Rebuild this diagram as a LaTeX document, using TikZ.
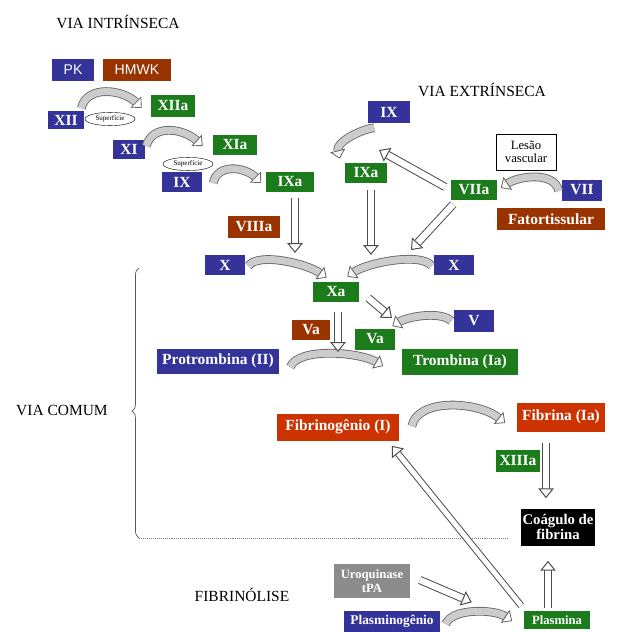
\documentclass[tikz,border=0pt]{standalone}
\usepackage{fontspec}
\setmainfont{Liberation Serif}
\newfontfamily\arialfont{Liberation Sans}
\usepackage{tikz}
\usetikzlibrary{arrows.meta}
\usetikzlibrary{calc,shapes.geometric,decorations.pathreplacing}

\definecolor{azul}{RGB}{51,51,153}
\definecolor{verde}{RGB}{28,124,28}
\definecolor{marrom}{RGB}{153,51,0}
\definecolor{vermelho}{RGB}{204,51,0}
\definecolor{cinza}{RGB}{140,140,140}

\begin{document}
\begin{tikzpicture}[x=0.025cm, y=-0.025cm]
    \tikzstyle{fator} = [rectangle, inner sep=0pt, text=white, font={\fontsize{11}{12}\selectfont\bfseries}];
    \tikzstyle{titulo} = [inner sep=0pt, font={\fontsize{11}{13}\selectfont}];
    \tikzstyle{superf} = [ellipse, draw, line width=0.3pt, inner sep=0pt, minimum width=1.25cm, minimum height=0.33cm, font={\fontsize{5}{6}\selectfont}];
    \tikzstyle{hollow} = [draw=black!70, line width=0.7pt, double=white, double distance=4.5pt, -{Triangle[open, fill=white, width=11pt, length=7pt]}];
    \tikzstyle{curva} = [draw=black!60, line width=0.6pt, double=gray!40, double distance=5pt, -{Triangle[open, fill=white, width=11pt, length=6pt]}];
    \useasboundingbox (0,0) rectangle (629,632);

    % via intrinseca
    \node[titulo] (vi) at (118,22) {VIA INTRÍNSECA};
    \node[fator, fill=azul, font={\arialfont\fontsize{10}{12}\selectfont}, minimum width=1.05cm, minimum height=0.525cm] (PK) at (73,70) {PK};
    \node[fator, fill=marrom, font={\arialfont\fontsize{10}{12}\selectfont}, minimum width=1.675cm, minimum height=0.525cm] (HMWK) at (137,70) {HMWK};
    \node[fator, fill=azul, minimum width=0.9cm, minimum height=0.43cm] (XII) at (66,120) {XII};
    \node[superf] (sup1) at (110,119) {Superfície};
    \node[fator, fill=verde, minimum width=1.1cm, minimum height=0.525cm] (XIIa) at (173,106) {XIIa};
    \node[fator, fill=azul, minimum width=0.8cm, minimum height=0.475cm] (XI) at (129,149) {XI};
    \node[fator, fill=verde, minimum width=1.1cm, minimum height=0.5cm] (XIa) at (235,145) {XIa};
    \node[superf] (sup2) at (188,164) {Superfície};
    \node[fator, fill=azul, minimum width=1.0cm, minimum height=0.5cm] (IX) at (182,182) {IX};
    \node[fator, fill=verde, minimum width=1.175cm, minimum height=0.5cm] (IXa) at (290,182) {IXa};
    \node[fator, fill=marrom, minimum width=1.275cm, minimum height=0.55cm] (VIIIa) at (254,227) {VIIIa};

    % via extrinseca
    \node[titulo] (ve) at (482,90) {VIA EXTRÍNSECA};
    \node[fator, fill=azul, minimum width=1.025cm, minimum height=0.525cm] (IXe) at (389,112) {IX};
    \node[fator, fill=verde, minimum width=1.05cm, minimum height=0.5cm] (IXae) at (366,173) {IXa};
    \node[draw, line width=0.4pt, align=center, minimum width=1.5cm, minimum height=0.9cm, inner sep=1pt, font={\fontsize{9}{9}\selectfont}] (lesao) at (526,152) {Lesão\\vascular};
    \node[fator, fill=verde, minimum width=1.125cm, minimum height=0.5cm] (VIIa) at (474,190) {VIIa};
    \node[fator, fill=azul, minimum width=1.0cm, minimum height=0.525cm] (VII) at (582,190) {VII};
    \node[fator, fill=marrom, minimum width=2.7cm, minimum height=0.55cm] (ft) at (551,219) {Fatortissular};

    % via comum
    \node[fator, fill=azul, minimum width=1.0cm, minimum height=0.5cm] (Xl) at (225,265) {X};
    \node[fator, fill=azul, minimum width=1.0cm, minimum height=0.5cm] (Xr) at (454,265) {X};
    \node[fator, fill=verde, minimum width=1.15cm, minimum height=0.5cm] (Xa) at (336,292) {Xa};
    \node[fator, fill=marrom, minimum width=0.95cm, minimum height=0.5cm] (Va) at (311,330) {Va};
    \node[fator, fill=verde, minimum width=1.0cm, minimum height=0.525cm] (Vag) at (375,339) {Va};
    \node[fator, fill=azul, minimum width=0.975cm, minimum height=0.55cm] (V) at (474,321) {V};
    \node[fator, fill=azul, minimum width=3.05cm, minimum height=0.625cm] (pro) at (218,361) {Protrombina (II)};
    \node[fator, fill=verde, minimum width=2.875cm, minimum height=0.65cm] (trom) at (460,362) {Trombina (Ia)};
    \node[titulo] (vc) at (62,410) {VIA COMUM};
    \node[fator, fill=vermelho, minimum width=3.025cm, minimum height=0.675cm] (fibrinog) at (338,427) {Fibrinogênio (I)};
    \node[fator, fill=vermelho, minimum width=2.175cm, minimum height=0.725cm] (fibrina) at (561,417) {Fibrina (Ia)};
    \node[fator, fill=verde, minimum width=1.075cm, minimum height=0.55cm] (XIIIa) at (518,461) {XIIIa};
    \node[fator, fill=black, align=center, minimum width=1.85cm, minimum height=0.925cm, font={\fontsize{10.5}{11}\selectfont\bfseries}] (coag) at (558,527) {Coágulo de\\fibrina};

    % fibrinolise
    \node[titulo] (fl) at (242,595) {FIBRINÓLISE};
    \node[fator, fill=cinza, align=center, minimum width=1.875cm, minimum height=0.85cm, font={\fontsize{9}{10}\selectfont\bfseries}] (uro) at (372,581) {Uroquinase\\tPA};
    \node[fator, fill=azul, minimum width=2.375cm, minimum height=0.525cm, font={\fontsize{9.5}{10}\selectfont\bfseries}] (plasmg) at (392,621) {Plasminogênio};
    \node[fator, fill=verde, minimum width=1.625cm, minimum height=0.45cm, font={\fontsize{9}{10}\selectfont\bfseries}] (plasmina) at (557,620) {Plasmina};

    % chave e linha pontilhada
    \coordinate (cb) at (139,538);
    \coordinate (ct) at (139,268);
    \draw[gray!70!black, line width=0.5pt, decorate, decoration={brace, amplitude=5pt, aspect=0.47}] (cb) -- (ct);
    \draw[gray, densely dotted] (cb) -- ([xshift=-9pt]coag.west |- cb);

    % setas curvas
    \draw[curva] ($(XII.north east)+(-3,-3)$) .. controls +(6,-24) and +(-18,-18) .. ($(XIIa.west)+(-9,2)$);
    \draw[curva] ($(XI.east)+(1,-3)$) .. controls +(6,-22) and +(-20,-18) .. ($(XIa.west)+(-10,1)$);
    \draw[curva] ($(IX.east)+(11,1)$) .. controls +(4,-20) and +(-16,-16) .. ($(IXa.west)+(-5,1)$);
    \draw[curva] ($(IXe.south west)+(6,5)$) .. controls +(-15,2) and +(-4,-16) .. ($(IXae.north west)+(-5,-4)$);
    \draw[curva] ($(VII.west)+(-3,1)$) .. controls +(-4,-20) and +(18,-12) .. ($(VIIa.east)+(4,-2)$);
    \draw[curva] ($(Xl.east)+(3,1)$) .. controls +(10,-14) and +(-20,-14) .. ($(Xa.north west)+(14,-4)$);
    \draw[curva] ($(Xr.west)+(-2,1)$) .. controls +(-10,-14) and +(20,-14) .. ($(Xa.north east)+(-12,-5)$);
    \draw[curva] ($(V.west)+(-3,0)$) .. controls +(-10,-10) and +(16,-10) .. ($(Vag.north east)+(-3,-2)$);
    \draw[curva] ($(pro.east)+(11,6)$) .. controls +(8,-20) and +(-24,-14) .. ($(trom.west)+(-19,4)$);
    \draw[curva] ($(fibrinog.east)+(13,-1)$) .. controls +(6,-28) and +(-28,-22) .. ($(fibrina.west)+(-12,6)$);
    \draw[curva] ($(plasmg.east)+(6,3)$) .. controls +(6,-16) and +(-18,-12) .. ($(plasmina.west)+(-12,1)$);

    % setas ocas
    \coordinate (kX1) at (295,253);
    \coordinate (kX2) at (371,255);
    \coordinate (kX3) at (411,250);
    \coordinate (kIX) at (379,150);
    \coordinate (kV) at (392,318);
    \coordinate (kP) at (338,352);
    \draw[hollow] ($(IXa.south)+(5,6)$) -- (kX1);
    \draw[hollow] ($(IXae.south)+(5,7)$) -- (kX2);
    \draw[hollow] ($(VIIa.west)+(-6,-3)$) -- (kIX);
    \draw[hollow] ($(VIIa.south west)+(2,4)$) -- (kX3);
    \draw[hollow] ($(Xa.east)+(9,6)$) -- (kV);
    \draw[hollow] ($(Xa.south)+(2,10)$) -- (kP);
    \draw[hollow] ($(fibrina.south)+(-15,11)$) -- ($(coag.north)+(-12,-10)$);
    \draw[hollow, double distance=3.5pt] ($(plasmina.north west)+(-3,-5)$) -- ($(fibrinog.south east)+(-7,5)$);
    \draw[hollow] ($(plasmina.north)+(-9,-3)$) -- ($(coag.south)+(-10,15)$);
    \draw[hollow] ($(uro.east)+(10,-1)$) -- ($(plasmg.north east)+(32,-8)$);
\end{tikzpicture}
\end{document}
